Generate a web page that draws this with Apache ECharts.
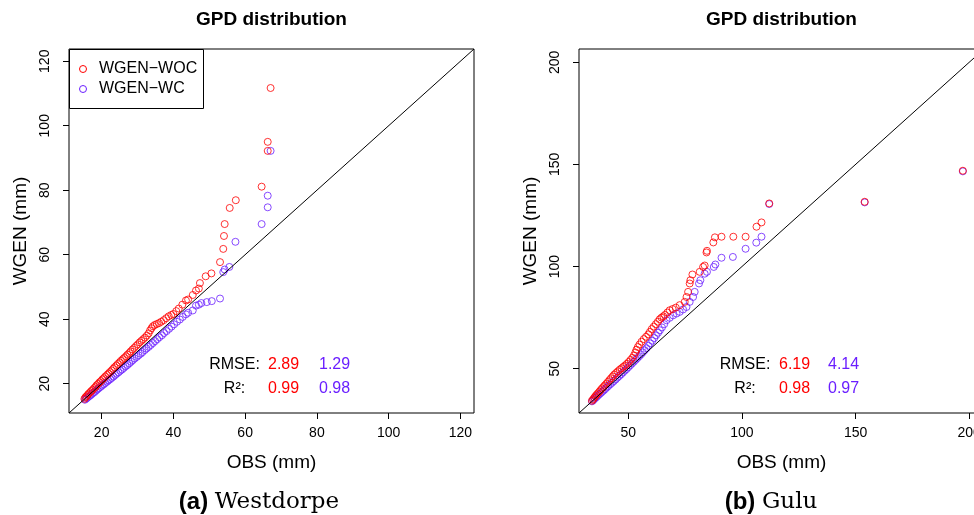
<!DOCTYPE html>
<html><head><meta charset="utf-8">
<script src="https://cdn.jsdelivr.net/npm/echarts@6/dist/echarts.min.js"></script>
<style>html,body{margin:0;padding:0;background:#fff}#c{width:974px;height:515px}</style>
</head><body><div id="c"></div>
<script>
// ---- Data ----
const leftWocObs = [15.2,15.5,15.8,16.1,16.4,16.8,17.1,17.5,17.9,18.3,18.6,19.0,19.4,19.8,20.2,20.6,21.0,21.5,21.9,22.3,22.8,23.2,23.6,24.1,24.5,25.0,25.4,25.9,26.3,26.8,27.2,27.7,28.1,28.6,29.1,29.6,30.1,30.6,31.1,31.6,32.1,32.6,33.1,33.5,33.9,34.3,34.8,35.4,36.0,36.6,37.3,38.0,38.7,39.4,40.0,40.8,41.5,42.5,43.5,44.1,45.4,46.3,47.1,47.4,49.0,50.6,53.0,53.9,54.1,54.3,55.7,57.4,64.6,66.3,66.3,67.1];
const leftWoc    = [15.3,15.8,16.1,16.5,16.9,17.3,17.7,18.1,18.6,19.0,19.5,19.9,20.4,20.8,21.3,21.7,22.2,22.7,23.1,23.6,24.1,24.6,25.1,25.6,26.1,26.6,27.1,27.6,28.0,28.5,29.0,29.5,30.0,30.6,31.1,31.7,32.2,32.8,33.3,33.8,34.3,34.9,35.6,36.5,37.2,37.8,38.2,38.5,38.8,39.2,39.7,40.3,40.9,41.3,41.6,42.5,43.3,44.5,45.8,46.1,47.5,48.9,49.5,51.2,53.3,54.2,57.7,61.8,65.8,69.5,74.5,76.9,81.1,92.2,95.0,111.7];
const leftWcObs  = [15.3,15.6,16.0,16.4,16.8,17.2,17.6,18.0,18.4,18.8,19.2,19.7,20.1,20.6,21.0,21.5,21.9,22.4,22.8,23.3,23.8,24.2,24.7,25.2,25.7,26.2,26.7,27.2,27.7,28.2,28.7,29.2,29.8,30.3,30.9,31.4,32.0,32.5,33.1,33.7,34.3,34.9,35.5,36.1,36.8,37.4,38.1,38.8,39.5,40.2,41.0,41.8,42.6,43.5,44.1,45.4,46.3,47.1,47.8,49.3,50.7,53.0,53.9,54.3,55.6,57.3,64.6,66.3,66.3,67.1];
const leftWc     = [15.0,15.3,15.6,16.0,16.3,16.7,17.1,17.4,17.8,18.2,18.6,19.0,19.4,19.8,20.2,20.6,21.0,21.4,21.8,22.2,22.7,23.1,23.5,24.0,24.4,24.9,25.4,25.8,26.3,26.8,27.3,27.8,28.3,28.8,29.3,29.8,30.4,30.9,31.4,32.0,32.6,33.2,33.8,34.4,35.0,35.7,36.3,37.0,37.7,38.4,39.2,39.9,40.7,41.5,42.0,42.7,44.2,44.5,45.0,45.3,45.6,46.4,54.6,55.4,56.2,64.0,69.5,74.7,78.3,92.2];

const rightWocObs = [34.0,34.5,35.0,35.5,36.0,36.6,37.2,37.8,38.4,39.0,39.6,40.3,41.0,41.7,42.4,43.1,43.8,44.6,45.4,46.2,47.0,47.8,48.6,49.4,50.2,51.0,51.8,52.5,53.1,53.6,54.2,54.9,55.8,56.8,57.8,58.8,59.5,60.3,61.2,62.1,63.0,63.8,64.6,65.4,66.1,67.2,68.2,69.5,70.9,72.6,74.8,75.6,76.3,77.0,77.3,78.2,81.4,82.9,83.6,84.4,84.6,87.4,88.1,91.0,96.2,101.6,106.4,108.6,112.0,154.0,197.2];
const rightWoc    = [34.3,35.0,35.8,36.5,37.2,37.9,38.7,39.5,40.3,41.0,41.8,42.6,43.5,44.4,45.3,46.2,47.1,47.9,48.7,49.5,50.2,50.9,51.6,52.4,53.3,54.3,55.3,56.5,57.9,59.3,60.6,61.8,63.2,64.5,65.6,66.8,68.0,69.4,70.6,71.8,73.0,74.2,75.0,75.6,76.3,77.5,78.6,79.2,79.9,81.1,82.7,85.1,87.6,91.7,93.3,96.1,97.4,99.8,100.5,106.9,107.7,111.8,114.3,114.6,114.6,114.6,119.5,121.6,130.9,131.7,146.9];
const rightWcObs  = [34.0,34.6,35.2,35.8,36.4,37.0,37.7,38.4,39.1,39.8,40.5,41.2,42.0,42.8,43.6,44.4,45.2,46.0,46.8,47.6,48.4,49.2,50.0,50.8,51.6,52.4,53.2,54.0,54.8,55.6,56.4,57.2,58.0,58.8,59.6,60.5,61.4,62.2,63.1,63.9,64.8,65.8,66.8,68.2,69.7,71.2,72.6,74.1,75.6,77.0,78.5,79.2,81.1,81.7,83.6,84.6,87.6,88.3,91.0,96.0,101.6,106.3,108.6,112.0,154.0,197.2];
const rightWc     = [34.0,34.6,35.3,35.9,36.6,37.2,37.9,38.6,39.3,40.0,40.8,41.5,42.3,43.1,43.9,44.7,45.6,46.4,47.2,48.1,49.0,49.8,50.7,51.6,52.5,53.4,54.3,55.2,56.1,57.0,58.0,59.0,60.0,61.2,62.4,63.7,65.0,66.3,67.6,68.8,70.2,71.8,73.7,74.9,76.1,77.0,77.8,79.0,80.2,82.7,85.1,87.6,91.7,93.3,96.5,97.4,99.8,101.0,104.3,104.7,108.7,111.7,114.6,130.6,131.4,146.6];

const leftTicks  = [20,40,60,80,100,120];
const rightTicks = [50,100,150,200];
const leftRange  = [10.9,123.8];
const rightRange = [28.3,206.5];
const statsLeft  = {rmse:['2.89','1.29'], r2:['0.99','0.98']};
const statsRight = {rmse:['6.19','4.14'], r2:['0.98','0.97']};
const seriesNames = ['WGEN\u2212WOC','WGEN\u2212WC'];
const panelTitle = 'GPD distribution';
const captions = [['(a)','Westdorpe'],['(b)','Gulu']];

// ---- Styles ----
const RED = '#FF0000', BLUE = '#6A1EFF';
const SANS = "'Liberation Sans', Arial, Helvetica, sans-serif";
const SERIF = "'DejaVu Serif', 'Liberation Serif', serif";

function zip(xs, ys){ return xs.map((x,i)=>[x, ys[i]]); }

const grids = [
  {left:69, top:49, width:405, height:364},
  {left:579, top:49, width:405, height:364}
];

function mkX(idx, range, ticks){
  return {type:'value', gridIndex:idx, min:range[0], max:range[1],
    name:'OBS (mm)', nameLocation:'middle', nameGap:40,
    nameTextStyle:{fontFamily:SANS, fontSize:19, color:'#000'},
    axisLine:{show:false}, splitLine:{show:false},
    axisTick:{show:true, length:6, lineStyle:{color:'#000'}, customValues:ticks},
    axisLabel:{fontFamily:SANS, fontSize:14, color:'#000', margin:13, customValues:ticks}};
}
function mkY(idx, range, ticks){
  return {type:'value', gridIndex:idx, min:range[0], max:range[1],
    name:'WGEN (mm)', nameLocation:'middle', nameGap:39, nameRotate:90,
    nameTextStyle:{fontFamily:SANS, fontSize:19, color:'#000'},
    axisLine:{show:false}, splitLine:{show:false},
    axisTick:{show:true, length:6, lineStyle:{color:'#000'}, customValues:ticks},
    axisLabel:{fontFamily:SANS, fontSize:14, color:'#000', margin:17, rotate:90, customValues:ticks}};
}
function sc(idx, name, data, color){
  return {type:'scatter', name:name, xAxisIndex:idx, yAxisIndex:idx, data:data,
    symbol:'circle', symbolSize:7, silent:true, animation:false,
    itemStyle:{color:'rgba(0,0,0,0)', borderColor:color, borderWidth:1}};
}
function diag(idx, range){
  return {type:'line', xAxisIndex:idx, yAxisIndex:idx, data:[[range[0],range[0]],[range[1],range[1]]],
    symbol:'none', silent:true, animation:false, clip:true, lineStyle:{color:'#000', width:1}};
}
function txt(x,y,text,opts){
  return {type:'text', x:x, y:y, silent:true, style:Object.assign({text:text, fill:'#000', font:'16px '+SANS, align:'left', verticalAlign:'middle'}, opts||{})};
}
function stats(s, labX, n1X, n2X){
  return [
    txt(labX,365,'RMSE:',{align:'center'}),
    txt(n1X,365,s.rmse[0],{fill:RED}),
    txt(n2X,365,s.rmse[1],{fill:BLUE}),
    txt(labX,389,'R\u00B2:',{align:'center'}),
    txt(n1X,389,s.r2[0],{fill:RED}),
    txt(n2X,389,s.r2[1],{fill:BLUE})
  ];
}
function caption(cx, c){
  return {type:'text', x:cx, y:502, silent:true, style:{
    text:'{a|'+c[0]+'}  {b|'+c[1]+'}', align:'center', verticalAlign:'middle',
    rich:{a:{font:'bold 24px '+SANS, fill:'#000'}, b:{font:'23px '+SERIF, fill:'#000'}}}};
}

const graphics = [
  txt(271.5,20,panelTitle,{align:'center', font:'bold 19px '+SANS}),
  txt(781.5,20,panelTitle,{align:'center', font:'bold 19px '+SANS}),
  {type:'rect', shape:{x:69.5,y:49.5,width:134,height:59}, silent:true, z:10,
   style:{fill:'#fff', stroke:'#000', lineWidth:1}},
  {type:'circle', shape:{cx:83,cy:69,r:3.5}, silent:true, z:11, style:{fill:'none', stroke:RED, lineWidth:1}},
  {type:'circle', shape:{cx:83,cy:89,r:3.5}, silent:true, z:11, style:{fill:'none', stroke:BLUE, lineWidth:1}},
  Object.assign(txt(99,69,seriesNames[0]),{z:11}),
  Object.assign(txt(99,89,seriesNames[1]),{z:11}),
  caption(259, captions[0]),
  caption(771, captions[1])
].concat(stats(statsLeft,234.5,268,319), stats(statsRight,745,779,828));

const chart = echarts.init(document.getElementById('c'), null, {renderer:'canvas'});
chart.setOption({
  animation:false,
  backgroundColor:'#fff',
  grid: grids.map(g=>Object.assign({show:true, borderColor:'#000', borderWidth:1, backgroundColor:'transparent', containLabel:false, outerBoundsMode:'none'}, g)),
  xAxis:[mkX(0,leftRange,leftTicks), mkX(1,rightRange,rightTicks)],
  yAxis:[mkY(0,leftRange,leftTicks), mkY(1,rightRange,rightTicks)],
  series:[
    diag(0,leftRange), diag(1,rightRange),
    sc(0,seriesNames[1],zip(leftWcObs,leftWc),BLUE),
    sc(0,seriesNames[0],zip(leftWocObs,leftWoc),RED),
    sc(1,seriesNames[1],zip(rightWcObs,rightWc),BLUE),
    sc(1,seriesNames[0],zip(rightWocObs,rightWoc),RED)
  ],
  graphic: graphics
});
</script></body></html>
